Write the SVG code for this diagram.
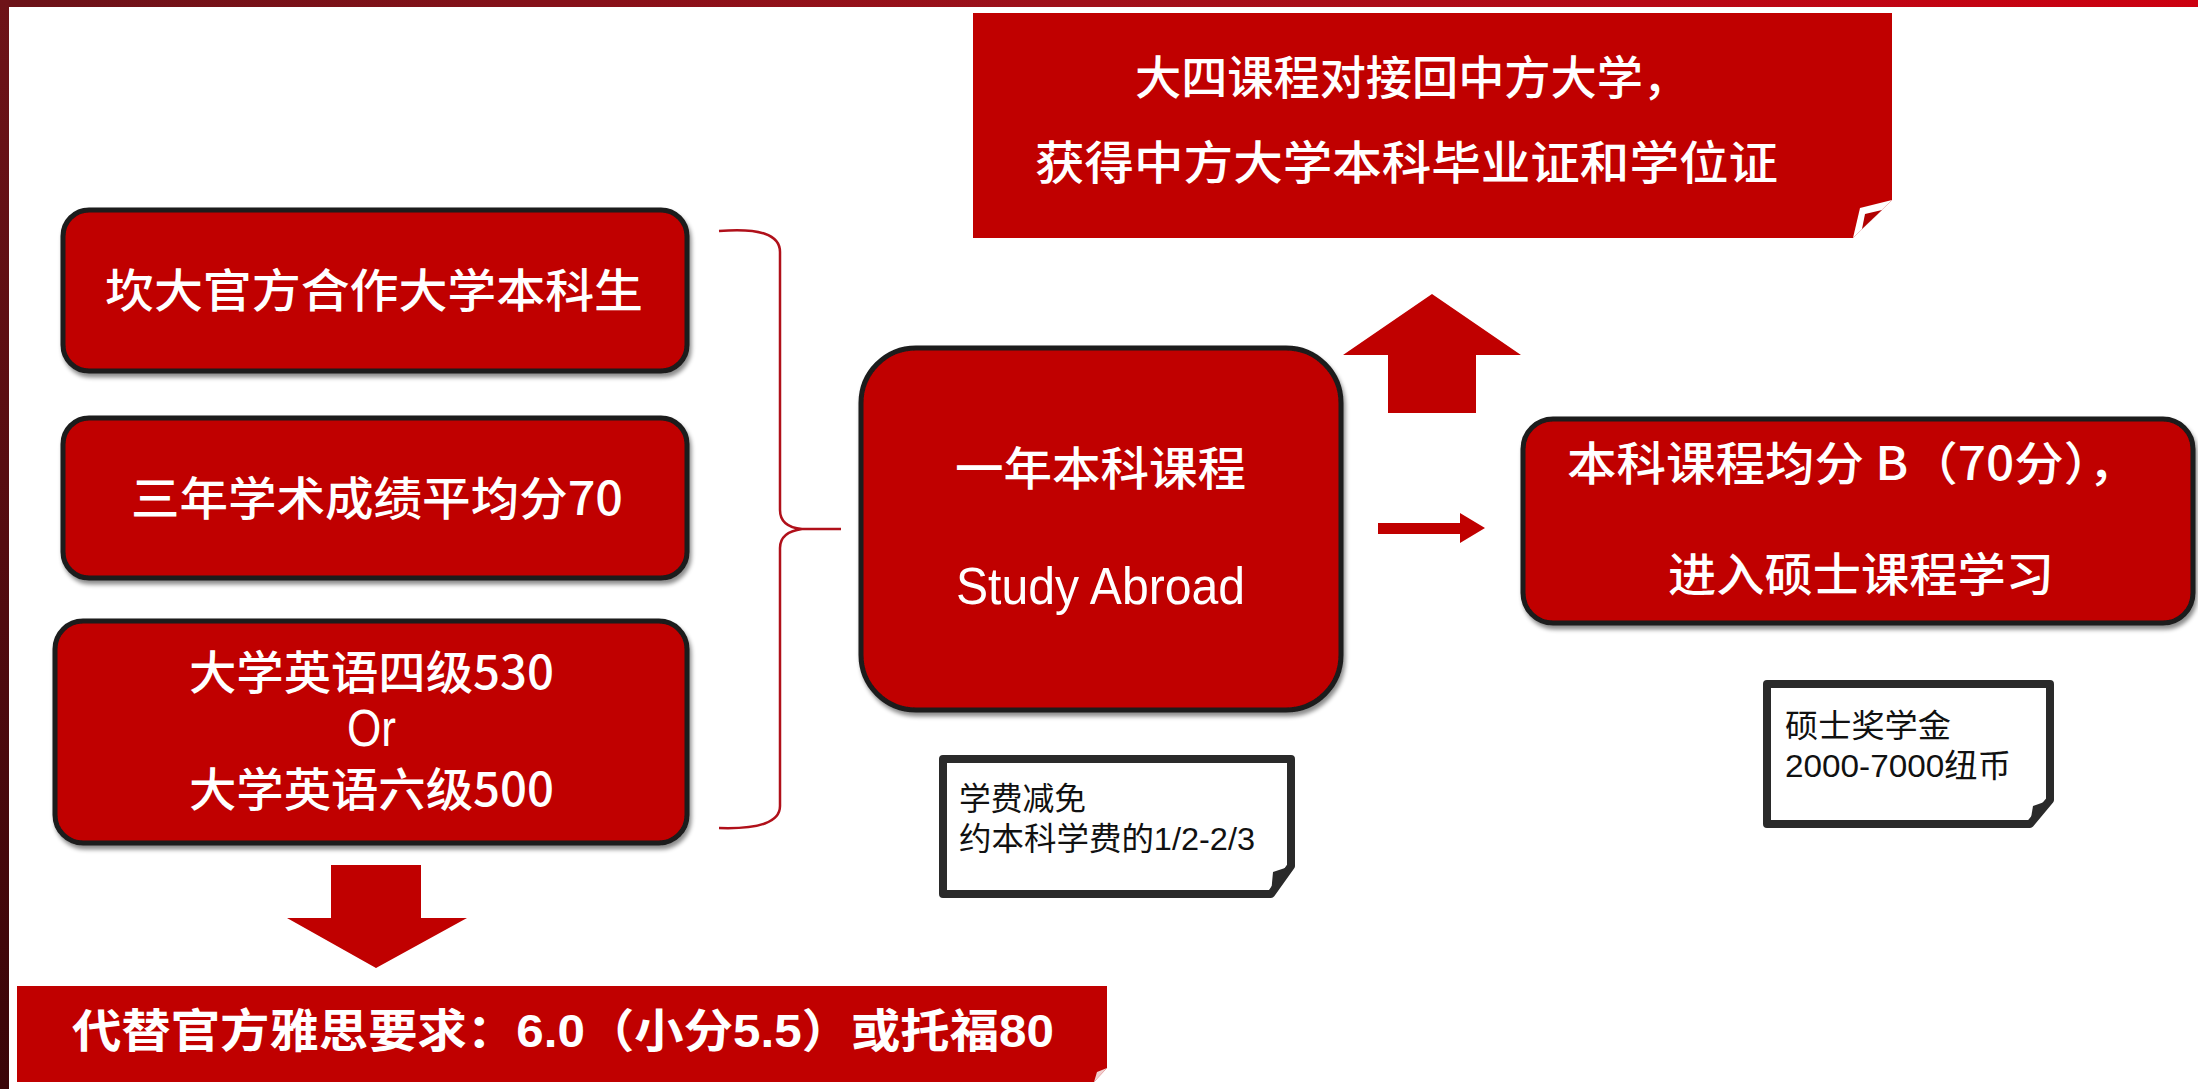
<svg xmlns="http://www.w3.org/2000/svg" width="2198" height="1089" viewBox="0 0 2198 1089">
<defs>
<linearGradient id="topbar" x1="0" y1="0" x2="1" y2="0">
<stop offset="0" stop-color="#6b1218"/>
<stop offset="0.5" stop-color="#a0101a"/>
<stop offset="1" stop-color="#cc0010"/>
</linearGradient>
<linearGradient id="leftbar" x1="0" y1="0" x2="0" y2="1">
<stop offset="0" stop-color="#6e1318"/>
<stop offset="1" stop-color="#3a0508"/>
</linearGradient>
<filter id="sh" x="-10%" y="-10%" width="120%" height="130%">
<feDropShadow dx="2" dy="4" stdDeviation="2" flood-color="#000" flood-opacity="0.45"/>
</filter>
<style>
.box{fill:#c00000;stroke:#1b1b1b;stroke-width:5;filter:url(#sh)}
.banner{fill:#c00000}
.arrow{fill:#c00000}
.note{fill:#fff;stroke:#2a2a2a;stroke-width:8;stroke-linejoin:round}
.curl{fill:#2a2a2a}
.t{fill:#fff;font-family:"Noto Sans CJK SC","Liberation Sans",sans-serif;font-size:46px;font-weight:500}
.tl{fill:#fff;font-family:"Liberation Sans Narrow","Liberation Sans","Noto Sans CJK SC",sans-serif;font-size:52px}
.tb{fill:#fff;font-family:"Liberation Sans","Noto Sans CJK SC",sans-serif;font-size:46px;font-weight:bold}
.n{fill:#111;font-family:"Liberation Sans","Noto Sans CJK SC",sans-serif;font-size:32px}
.brace{fill:none;stroke:#b0101a;stroke-width:2.5}
</style>
</defs>
<rect x="0" y="0" width="2198" height="1089" fill="#fff"/>
<rect x="0" y="0" width="2198" height="7" fill="url(#topbar)"/>
<rect x="0" y="0" width="9" height="1089" fill="url(#leftbar)"/>

<g id="connectors">
<path class="brace" d="M719,231 Q780,226 780,252 V510 Q780,527 802,529 H841 M802,529 Q780,532 780,548 V806 Q780,830 719,828"/>
<polygon class="arrow" points="1388,413 1388,355 1343,355 1432,294 1521,355 1476,355 1476,413"/>
<polygon class="arrow" points="331,865 421,865 421,918 467,918 376,968 287,918 331,918"/>
<polygon class="arrow" points="1378,523 1460,523 1460,513 1485,528 1460,543 1460,534 1378,534"/>
</g>

<g id="node-partner">
<rect class="box" x="63" y="210" width="624" height="161" rx="26"/>
<text class="t" x="105" y="307" textLength="538" lengthAdjust="spacingAndGlyphs">坎大官方合作大学本科生</text>
</g>

<g id="node-gpa">
<rect class="box" x="63" y="418" width="624" height="160" rx="26"/>
<text class="t" x="131" y="515" textLength="492" lengthAdjust="spacingAndGlyphs">三年学术成绩平均分70</text>
</g>

<g id="node-cet">
<rect class="box" x="55" y="621" width="632" height="222" rx="28"/>
<text class="t" x="189" y="689" font-size="44" textLength="365" lengthAdjust="spacingAndGlyphs">大学英语四级530</text>
<text class="tl" x="347" y="746" font-size="44" textLength="49" lengthAdjust="spacingAndGlyphs">Or</text>
<text class="t" x="189" y="806" font-size="44" textLength="365" lengthAdjust="spacingAndGlyphs">大学英语六级500</text>
</g>

<g id="node-ielts">
<path class="banner" d="M17,986 H1107 V1068 L1094,1082 H17 Z"/>
<path d="M1094,1082 L1107,1068 L1097,1072 Z" fill="#f0d0d0"/>
<text class="tb" x="72" y="1047" textLength="982" lengthAdjust="spacingAndGlyphs">代替官方雅思要求：6.0（小分5.5）或托福80</text>
</g>

<g id="node-year">
<rect class="box" x="861" y="348" width="480" height="362" rx="55"/>
<text class="t" x="955" y="485" textLength="291" lengthAdjust="spacingAndGlyphs">一年本科课程</text>
<text class="tl" x="956" y="604" textLength="289" lengthAdjust="spacingAndGlyphs">Study Abroad</text>
</g>

<g id="node-degree">
<path class="banner" d="M973,13 H1892 V200 L1853,238 H973 Z"/>
<polygon points="1892,200 1860,208 1853,238" fill="#fff"/>
<polygon points="1882,210 1865,214 1862,229" fill="#b00000"/>
<text class="t" x="1135" y="94" font-size="48" textLength="554" lengthAdjust="spacingAndGlyphs">大四课程对接回中方大学，</text>
<text class="t" x="1035" y="179" font-size="48" textLength="743" lengthAdjust="spacingAndGlyphs">获得中方大学本科毕业证和学位证</text>
</g>

<g id="node-master">
<rect class="box" x="1523" y="419" width="670" height="204" rx="30"/>
<text class="t" x="1567" y="480" textLength="571" lengthAdjust="spacingAndGlyphs">本科课程均分 B（70分），</text>
<text class="t" x="1668" y="591" textLength="386" lengthAdjust="spacingAndGlyphs">进入硕士课程学习</text>
</g>

<g id="note-tuition">
<path class="note" d="M943,759 H1291 V866 L1271,894 H943 Z"/>
<polygon class="curl" points="1291,866 1273,872 1271,894"/>
<text class="n" x="959" y="810" textLength="127" lengthAdjust="spacingAndGlyphs">学费减免</text>
<text class="n" x="959" y="850" textLength="296" lengthAdjust="spacingAndGlyphs">约本科学费的1/2-2/3</text>
</g>

<g id="note-scholarship">
<path class="note" d="M1767,684 H2050 V800 L2030,824 H1767 Z"/>
<polygon class="curl" points="2050,800 2033,806 2030,824"/>
<text class="n" x="1785" y="737" textLength="166" lengthAdjust="spacingAndGlyphs">硕士奖学金</text>
<text class="n" x="1785" y="777" textLength="226" lengthAdjust="spacingAndGlyphs">2000-7000纽币</text>
</g>
</svg>
